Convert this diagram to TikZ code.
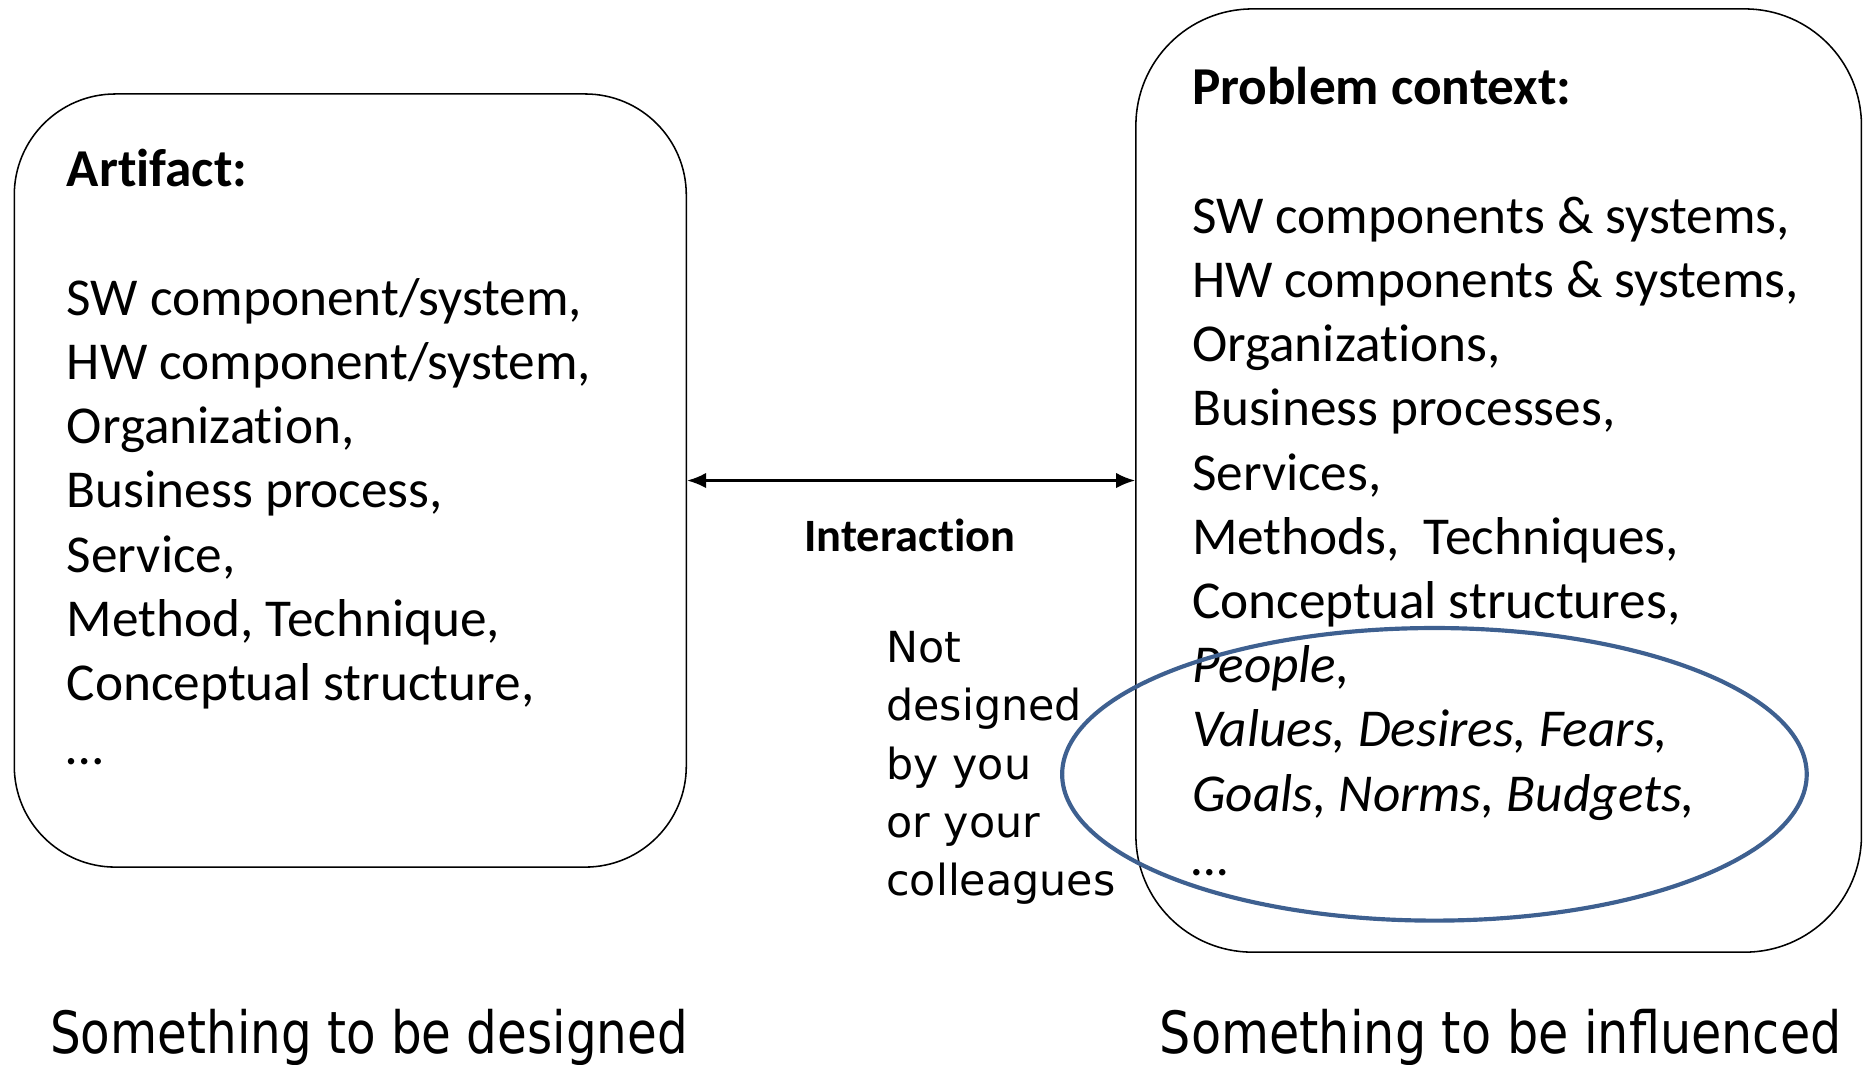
\documentclass[tikz,border=0pt]{standalone}
\usepackage{fontspec}
\setmainfont{Carlito}[Ligatures=NoCommon]
\newfontfamily\comic{DejaVu Sans}
\usetikzlibrary{arrows.meta,shapes.geometric}
\definecolor{ellblue}{HTML}{3E6090}
\tikzset{
  box/.style={draw=black, line width=1.3pt, rounded corners=#1, inner sep=0pt},
  listtext/.style={anchor=base west, align=left, inner sep=0pt, font=\fontsize{44.8}{54}\selectfont},
  comictext/.style={anchor=base west, align=left, inner sep=0pt, font=\comic\fontsize{36}{49}\selectfont},
  bigcomic/.style={anchor=base west, inner sep=0pt, font=\comic\fontsize{49}{55}\selectfont},
  link/.style={{Latex[length=16pt,width=13pt]}-{Latex[length=16pt,width=13pt]}, line width=2pt},
}
\begin{document}
\begin{tikzpicture}[x=1pt,y=-1pt]
\useasboundingbox (0,0) rectangle (1568,895);
\node[box=85, minimum width=565pt, minimum height=650pt] (artifact) at (294.5,404) {};
\node[box=98, minimum width=610pt, minimum height=793pt] (context) at (1260,404) {};
\node[listtext] (arttext) at (56,643) {\textbf{Artifact:}\\[54pt]
SW component/system,\\
HW component/system,\\
Organization,\\
Business process,\\
Service,\\
Method, Technique,\\
Conceptual structure,\\
\dots};
\node[listtext] (ctxtext) at (1002,736) {\textbf{Problem context:}\\[54pt]
SW components \& systems,\\
HW components \& systems,\\
Organizations,\\
Business processes,\\
Services,\\
Methods,\ \ Techniques,\\
Conceptual structures,\\
\textit{People,}\\
\textit{Values, Desires, Fears,}\\
\textit{Goals, Norms, Budgets,}\\
\textit{\dots}};
\draw[link] (artifact.east) -- (context.west);
\node[inner sep=0pt, font=\bfseries\fontsize{39}{46}\selectfont] (interaction) at (765,450) {Interaction};
\node[comictext] (notdesigned) at (745,753) {Not\\designed\\by you\\or your\\colleagues};
\node[ellipse, draw=ellblue, line width=3.5pt, minimum width=626pt, minimum height=246pt, inner sep=0pt] (circled) at (1206,651) {};
\node[bigcomic] (designed) at (42,886) {\scalebox{0.83}[1]{Something to be designed}};
\node[bigcomic] (influenced) at (975,886) {\scalebox{0.845}[1]{Something to be influenced}};
\end{tikzpicture}
\end{document}
